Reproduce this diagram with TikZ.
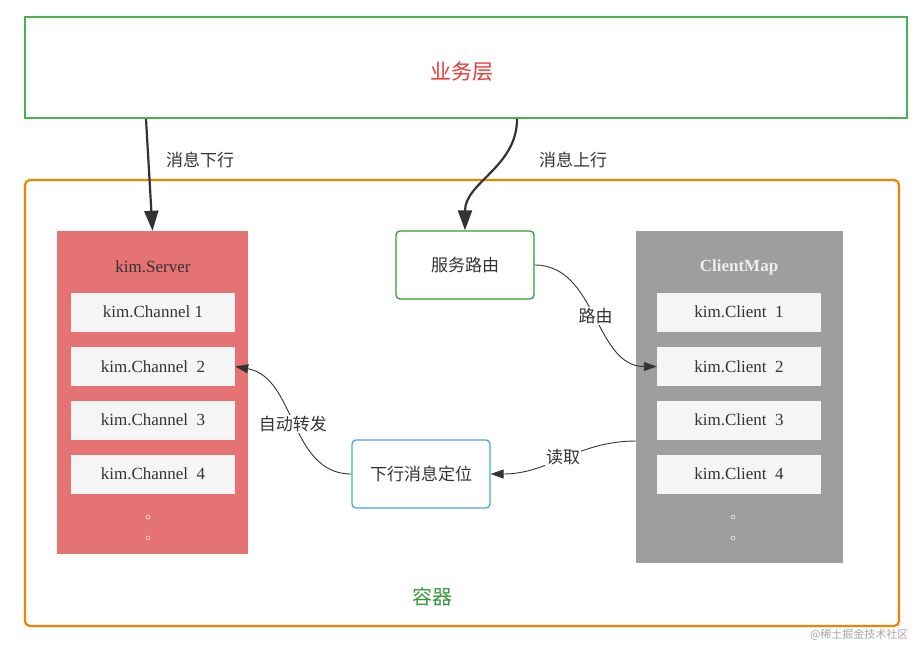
\documentclass[tikz,border=0pt]{standalone}
\usepackage{fontspec}
\setmainfont{Liberation Serif}
\newfontfamily\cjk{Noto Sans CJK SC}
\usepackage{tikz}
\usetikzlibrary{arrows.meta,positioning}
\definecolor{bizgreen}{HTML}{4CAF50}
\definecolor{bizred}{HTML}{E53935}
\definecolor{boxorange}{HTML}{F08300}
\definecolor{boxgreen}{HTML}{35963A}
\definecolor{serverred}{HTML}{E57373}
\definecolor{mapgray}{HTML}{9E9E9E}
\definecolor{slotgray}{HTML}{F5F5F5}
\definecolor{routegreen}{HTML}{2E9E34}
\definecolor{locblue}{HTML}{4DA3E6}
\definecolor{ink}{HTML}{333333}

\begin{document}
\begin{tikzpicture}[x=1pt,y=-1pt,
  zh/.style={font=\cjk\fontsize{17}{20}\selectfont,text=ink},
  latin/.style={font=\fontsize{17}{20}\selectfont,text=ink},
  slot/.style={latin,fill=slotgray,minimum width=164pt,minimum height=39pt,inner sep=0pt},
  stagebox/.style={zh,rounded corners=4pt,line width=1.3pt,minimum width=138pt,minimum height=68pt},
  flow/.style={draw=ink,line width=2.2pt,-{Triangle[length=20pt,width=14pt]}},
  link/.style={draw=ink,line width=0.9pt,-{Triangle[length=13pt,width=9pt]}},
  tag/.style={zh,fill=white,inner sep=1pt}]
\useasboundingbox (0,0) rectangle (912,651);
\node[draw=bizgreen,line width=2pt,minimum width=882pt,minimum height=101pt] (biz) at (466,67.5) {};
\node[text=bizred,font=\cjk\fontsize{21}{24}\selectfont] (bizname) at (462,72) {业务层};
\node[draw=boxorange,line width=2.2pt,rounded corners=5pt,minimum width=874pt,minimum height=446pt] (box) at (462,403) {};
\node[text=boxgreen,font=\cjk\fontsize{20}{24}\selectfont] (boxname) at (432,597) {容器};
% kim.Server
\node[fill=serverred,minimum width=191pt,minimum height=323pt,inner sep=0pt] (server) at (152.5,392.5) {};
\node[latin] (servername) at (153,267) {kim.Server};
\foreach \i/\y/\t in {1/312/{kim.Channel 1},2/366.5/{kim.Channel~~2},3/420/{kim.Channel~~3},4/474/{kim.Channel~~4}}
  \node[slot] (ch\i) at (153,\y) {\t};
\foreach \y in {517,538} \draw[white!80!serverred,line width=0.6pt] (148,\y) circle (2pt);
% ClientMap
\node[fill=mapgray,minimum width=207pt,minimum height=332pt,inner sep=0pt] (cmap) at (739.5,397) {};
\node[latin,text=white!93!black,font=\bfseries\fontsize{17}{20}\selectfont] (cmapname) at (739,267) {ClientMap};
\foreach \i/\y in {1/312,2/366.5,3/420,4/474}
  \node[slot] (cl\i) at (739,\y) {kim.Client~~\i};
\foreach \y in {517,538} \draw[white!80!mapgray,line width=0.6pt] (733,\y) circle (2pt);
% routing
\node[stagebox,draw=routegreen] (route) at (465,265) {服务路由};
\node[stagebox,draw=locblue] (locate) at (421,474) {下行消息定位};
\draw[flow] ([xshift=-320pt]biz.south) -- (server.north);
\node[zh] (down) at (200,160) {消息下行};
\draw[flow] ([xshift=51pt]biz.south) to[out=-90,in=90] (route.north);
\node[zh] (up) at (573,160) {消息上行};
\draw[link] (route.east) to[out=0,in=180] node[tag] {路由} (cl2.west);
\draw[link] ([yshift=-44pt]cmap.west) to[out=180,in=0] node[tag] {读取} (locate.east);
\draw[link] (locate.west) to[out=180,in=-10] node[tag] {自动转发} (ch2.east);
\node[anchor=east,text=gray!70,font=\cjk\fontsize{11}{13}\selectfont] (mark) at (912,635) {@稀土掘金技术社区};
\end{tikzpicture}
\end{document}
